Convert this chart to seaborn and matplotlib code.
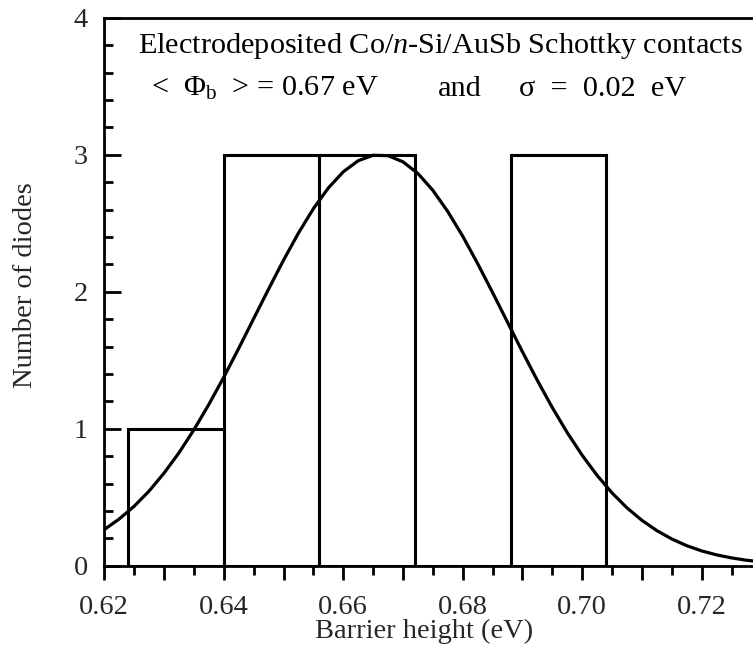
import numpy as np
import pandas as pd
import seaborn as sns
import matplotlib
matplotlib.use("Agg")
import matplotlib.pyplot as plt
from matplotlib.ticker import MultipleLocator

# ---- data ----
bin_edges = [0.624, 0.640, 0.656, 0.672, 0.688, 0.704]
bin_counts = [1, 3, 3, 0, 3]

curve_x = [0.6200, 0.6225, 0.6250, 0.6275, 0.6300, 0.6325, 0.6350, 0.6375,
           0.6400, 0.6425, 0.6450, 0.6475, 0.6500, 0.6525, 0.6550, 0.6575,
           0.6600, 0.6625, 0.6650, 0.6675, 0.6700, 0.6725, 0.6750, 0.6775,
           0.6800, 0.6825, 0.6850, 0.6875, 0.6900, 0.6925, 0.6950, 0.6975,
           0.7000, 0.7025, 0.7050, 0.7075, 0.7100, 0.7125, 0.7150, 0.7175,
           0.7200, 0.7225, 0.7250, 0.7275, 0.7300]
curve_y = [0.264, 0.341, 0.434, 0.545, 0.676, 0.824, 0.992, 1.177,
           1.376, 1.586, 1.803, 2.019, 2.230, 2.428, 2.606, 2.757,
           2.875, 2.956, 2.996, 2.993, 2.948, 2.863, 2.740, 2.585,
           2.405, 2.205, 1.994, 1.777, 1.561, 1.352, 1.154, 0.971,
           0.806, 0.659, 0.531, 0.422, 0.331, 0.256, 0.195, 0.146,
           0.108, 0.079, 0.057, 0.040, 0.028]

x_major = [0.62, 0.63, 0.64, 0.65, 0.66, 0.67, 0.68, 0.69, 0.70, 0.71, 0.72, 0.73]
x_labels = ["0.62", "", "0.64", "", "0.66", "", "0.68", "", "0.70", "", "0.72", ""]
y_major = [0, 1, 2, 3, 4]

title_line1 = "Electrodeposited Co/$\\mathit{n}$-Si/AuSb Schottky contacts"
title_line2a = "<  Φ$_{\\mathrm{b}}$  > = 0.67 eV"
title_line2b = "and"
title_line2c = "σ  =  0.02  eV"
x_label = "Barrier height (eV)"
y_label = "Number of diodes"

# ---- style ----
sns.set_theme(style="white")
plt.rcParams["font.family"] = ["Liberation Serif", "DejaVu Serif"]
plt.rcParams["mathtext.fontset"] = "custom"
plt.rcParams["mathtext.rm"] = "Liberation Serif"
plt.rcParams["mathtext.it"] = "Liberation Serif:italic"

fig = plt.figure(figsize=(7.53, 6.54), dpi=100)
ax_w = 761.4 - 104.3
ax_h = 565.7 - 17.7
ax = fig.add_axes([104.3 / 753, 1 - 565.7 / 654, ax_w / 753, ax_h / 654])

centers = [(a + b) / 2 for a, b in zip(bin_edges[:-1], bin_edges[1:])]
df = pd.DataFrame({"x": centers, "n": bin_counts})
sns.histplot(data=df, x="x", weights="n", bins=bin_edges, fill=False,
             color="black", linewidth=2.2, ax=ax)
for p in ax.patches:
    p.set_edgecolor("black")
    p.set_linewidth(2.2)

cdf = pd.DataFrame({"x": curve_x, "y": curve_y})
sns.lineplot(data=cdf, x="x", y="y", color="black", linewidth=2.3, ax=ax)

ax.set_xlim(0.62, 0.73)
ax.set_ylim(0, 4)

ax.set_xticks(x_major)
ax.set_xticklabels(x_labels)
ax.xaxis.set_minor_locator(MultipleLocator(0.005))
ax.set_yticks(y_major)
ax.set_yticklabels([str(v) for v in y_major])
ax.yaxis.set_minor_locator(MultipleLocator(0.2))

ax.tick_params(axis="x", which="major", direction="out", length=10, width=2,
               labelsize=20.5, pad=11, color="black", bottom=True)
ax.tick_params(axis="x", which="minor", direction="out", length=6.5, width=2,
               color="black", bottom=True)
ax.tick_params(axis="y", which="major", direction="in", length=12, width=2,
               labelsize=20.5, pad=12, color="black", left=True)
ax.tick_params(axis="y", which="minor", direction="in", length=6.5, width=2,
               color="black", left=True)

for s in ["left", "bottom", "top"]:
    ax.spines[s].set_visible(True)
    ax.spines[s].set_color("black")
    ax.spines[s].set_linewidth(2)
ax.spines["right"].set_visible(False)

ax.set_xlabel(x_label, fontsize=20.5)
ax.xaxis.set_label_coords((424.5 - 104.3) / ax_w, -(638 - 565.7) / ax_h)
ax.xaxis.label.set_va("baseline")
ax.set_ylabel(y_label, fontsize=20.5)
ax.yaxis.set_label_coords((38 - 104.3) / ax_w, (565.7 - 285) / ax_h)

ax.text(0.6763, 3.745, title_line1, fontsize=21.8, ha="center", va="baseline", color="black")
ax.text(0.62777, 3.43, title_line2a, fontsize=21.8, ha="left", va="baseline", color="black")
ax.text(0.6795, 3.43, title_line2b, fontsize=21.8, ha="center", va="baseline", color="black")
ax.text(0.6895, 3.43, title_line2c, fontsize=21.8, ha="left", va="baseline", color="black")

fig.savefig("out.png", dpi=100)
